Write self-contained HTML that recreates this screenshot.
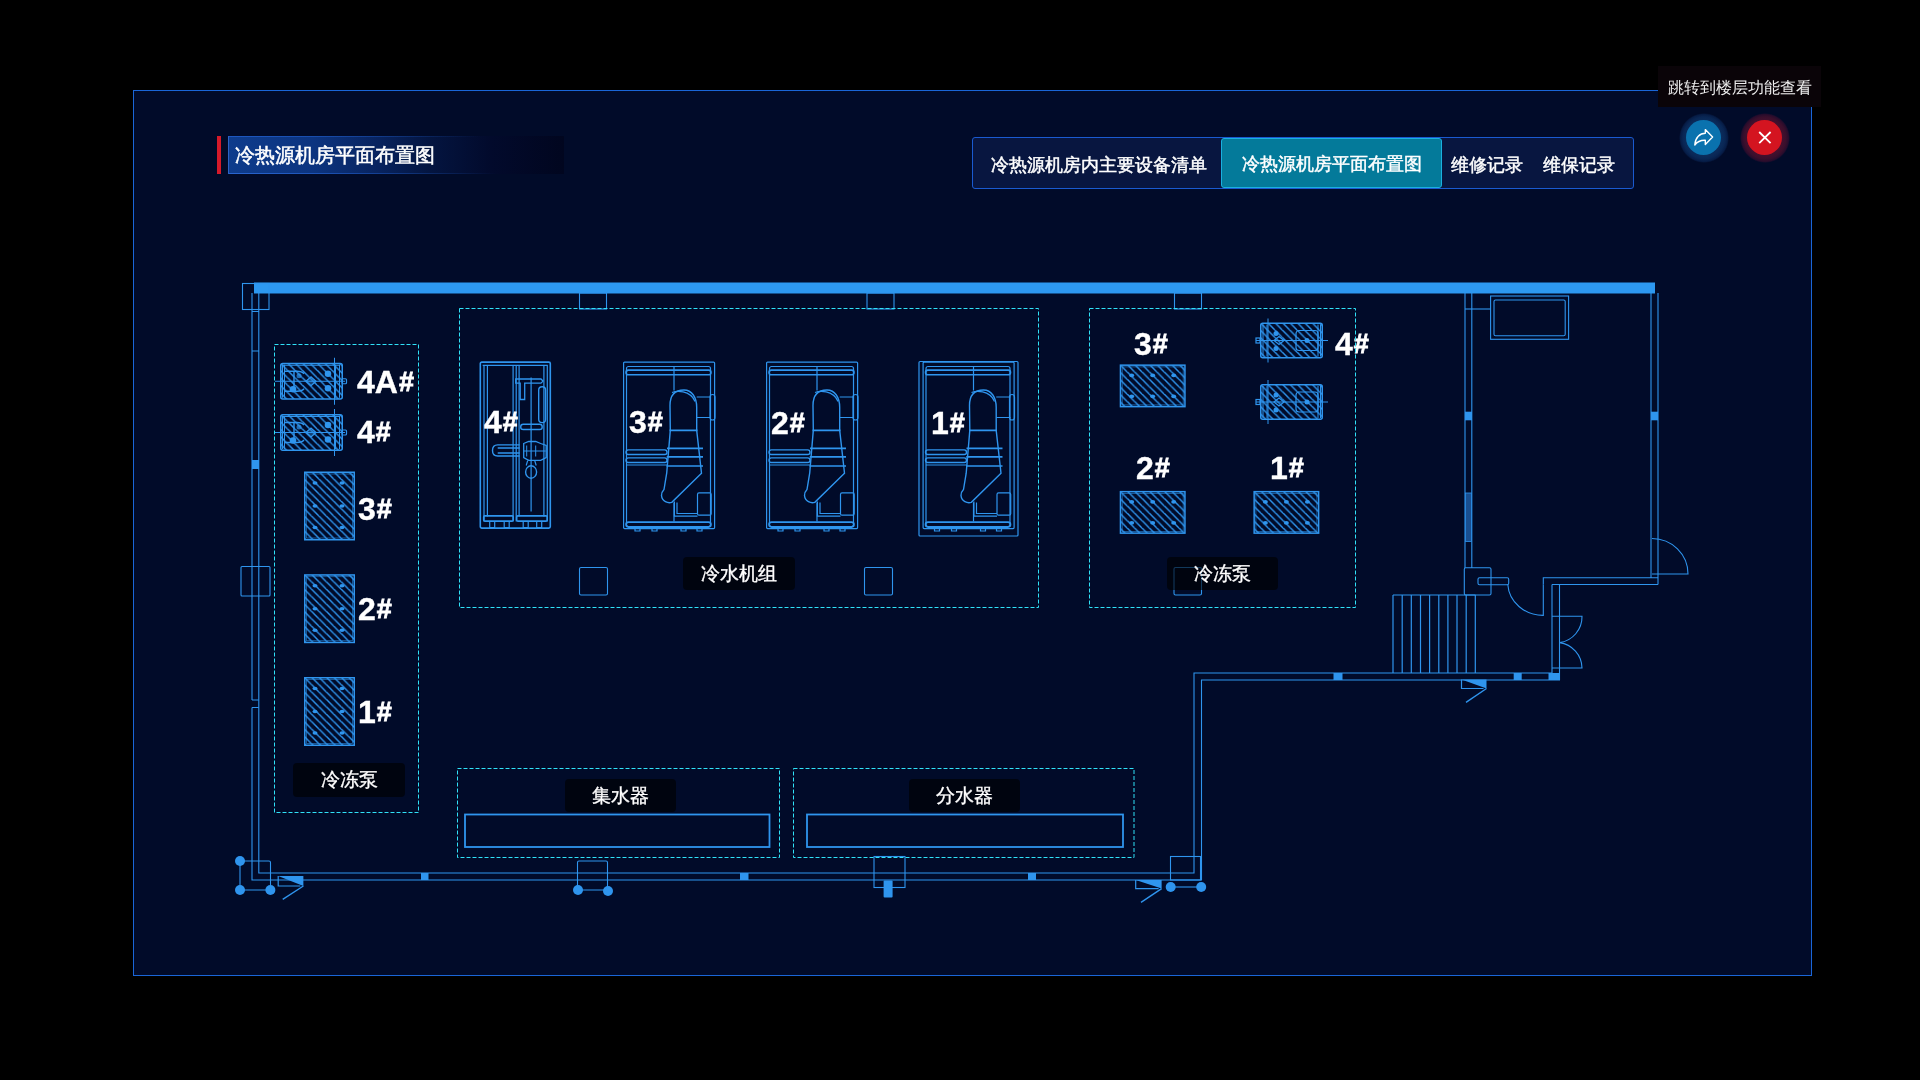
<!DOCTYPE html>
<html><head><meta charset="utf-8">
<style>
*{margin:0;padding:0;box-sizing:border-box}
html,body{width:1920px;height:1080px;overflow:hidden;background:#000;font-family:"Liberation Sans",sans-serif;color:#fff}
.panel{position:absolute;left:133px;top:90px;width:1679px;height:886px;border:1px solid #1a66d8;background:#010b29}
.redbar{position:absolute;left:217px;top:136px;width:4px;height:38px;background:#d51a2a}
.title{position:absolute;left:228px;top:136px;width:336px;height:38px;background:linear-gradient(90deg,#1e58c0,rgba(30,88,192,.5) 40%,rgba(30,88,192,0) 75%) left top/100% 1px no-repeat,linear-gradient(90deg,#2a66d0,rgba(30,88,192,.6) 40%,rgba(30,88,192,0) 80%) left bottom/100% 1px no-repeat,linear-gradient(90deg,#0e3c8c 0%,#0c3480 25%,#08235e 45%,#041540 60%,#020a2c 78%,#01061f 100%);border-left:1px solid #2a62c8}
.title span{position:absolute;left:6px;top:7px;font-size:20px;font-weight:400;-webkit-text-stroke:.5px #fff;line-height:24px;white-space:nowrap;letter-spacing:0}
.tabs{position:absolute;left:972px;top:137px;width:662px;height:52px;border:1px solid #1a5ad0;border-radius:3px;background:#081640}
.tab{position:absolute;top:2px;height:50px;font-size:18px;font-weight:400;-webkit-text-stroke:.45px #fff;line-height:50px;white-space:nowrap}
.tab.active{top:0;height:50px;background:#047a9a;border:1px solid #1ab0e0;border-radius:3px}
.tip{position:absolute;left:1658px;top:66px;width:163px;height:41px;background:#0a0408;font-size:16px;line-height:43px;text-align:center;color:#eee;white-space:nowrap}
.btn{position:absolute;width:50px;height:50px;border-radius:50%}
.btn i{position:absolute;left:7.5px;top:7px;width:35px;height:35px;border-radius:50%}
.lbl{position:absolute;background:rgba(0,0,0,.62);border-radius:4px;font-size:19px;font-weight:400;-webkit-text-stroke:.35px #fff;text-align:center;color:#fff;white-space:nowrap}
.num{position:absolute;font-weight:700;font-size:32px;line-height:32px;white-space:nowrap;color:#fff;-webkit-text-stroke:.4px #fff}
.num b{font-size:27px;vertical-align:2px;-webkit-text-stroke:.8px #fff;margin-left:1px}
svg{position:absolute;left:0;top:0}
.num,.lbl,.tab,.title span,.tip{will-change:transform}
</style></head>
<body>
<div class="panel"></div>
<div class="redbar"></div>
<div class="title"><span>冷热源机房平面布置图</span></div>
<div class="tabs">
  <div class="tab" style="left:18px">冷热源机房内主要设备清单</div>
  <div class="tab active" style="left:248px;width:221px;text-align:center">冷热源机房平面布置图</div>
  <div class="tab" style="left:478px">维修记录</div>
  <div class="tab" style="left:570px">维保记录</div>
</div>
<div class="tip">跳转到楼层功能查看</div>
<div class="btn" style="left:1678.5px;top:113px;background:radial-gradient(circle closest-side,#0b2c5c 70%,#092654 84%,#061c46 94%,rgba(1,11,41,0) 100%)"><i style="background:#0a72ae"></i></div>
<div class="btn" style="left:1739.5px;top:113px;background:radial-gradient(circle closest-side,#44102e 70%,#3a0f2c 84%,#280c2c 94%,rgba(1,11,41,0) 100%)"><i style="background:#d41420"></i></div>

<svg width="1920" height="1080" viewBox="0 0 1920 1080" id="plan">
<defs>
<pattern id="hatch" patternUnits="userSpaceOnUse" width="7.4" height="7.4" patternTransform="rotate(0)"><path d="M-1,-1 L8.4,8.4 M-4.7,2.7 L0,7.4 M2.7,-4.7 L8.4,1" stroke="#2f95ee" stroke-width="1.45" fill="none"/></pattern>
<g id="pumpV"><rect x="0.75" y="0.75" width="49.5" height="67.5" fill="url(#hatch)" stroke="#2f95ee" stroke-width="1.5"/><rect x="2.5" y="2.5" width="46" height="64" fill="none" stroke="#2f95ee" stroke-width="0.8" opacity=".7"/><g fill="#2f95ee"><ellipse cx="11" cy="11.5" rx="2.5" ry="1.8"/><ellipse cx="38" cy="11.5" rx="2.5" ry="1.8"/><ellipse cx="11" cy="34.5" rx="2.5" ry="1.8"/><ellipse cx="38" cy="34.5" rx="2.5" ry="1.8"/><ellipse cx="11" cy="56" rx="2.5" ry="1.8"/><ellipse cx="38" cy="56" rx="2.5" ry="1.8"/></g></g>
<g id="pumpH"><rect x="0.75" y="0.75" width="64.5" height="41.5" fill="url(#hatch)" stroke="#2f95ee" stroke-width="1.5"/><rect x="2.5" y="2.5" width="61" height="38" fill="none" stroke="#2f95ee" stroke-width="0.8" opacity=".7"/><g fill="#2f95ee"><ellipse cx="12" cy="11" rx="2.5" ry="1.8"/><ellipse cx="33" cy="11" rx="2.5" ry="1.8"/><ellipse cx="54" cy="11" rx="2.5" ry="1.8"/><ellipse cx="12" cy="32" rx="2.5" ry="1.8"/><ellipse cx="33" cy="32" rx="2.5" ry="1.8"/><ellipse cx="54" cy="32" rx="2.5" ry="1.8"/></g></g>
<g id="pumpS"><rect x="0.75" y="0.75" width="61.5" height="35.5" rx="2" fill="url(#hatch)" stroke="#2f95ee" stroke-width="1.5"/><path d="M2,2.5 H60 M2.5,2 V35 M4.5,2 V35 M55.5,2 V35 M59.5,2 V35 M54.5,-5 V42 M-5,18.5 H65" stroke="#2f95ee" stroke-width="1" fill="none"/><path d="M4,8.5 H17 Q22,8.5 24,11 M4,28.5 H17 Q22,28.5 24,26 M14,8.5 V28.5" stroke="#2f95ee" stroke-width="1.4" fill="none"/><path d="M26,18.5 L31,14 L36,18.5 L31,23Z" stroke="#2f95ee" stroke-width="1.3" fill="#2f95ee" fill-opacity=".4"/><circle cx="13" cy="26.5" r="3.3" fill="#2f95ee"/><circle cx="48" cy="11" r="3.3" fill="#2f95ee"/><circle cx="48" cy="25.5" r="3.3" fill="#2f95ee"/><circle cx="19" cy="13" r="2.5" fill="#2f95ee" opacity=".7"/><rect x="62" y="16" width="4.5" height="5" rx="1" fill="none" stroke="#2f95ee" stroke-width="1.2"/></g>
<g id="pumpS2"><rect x="0.75" y="0.75" width="61.5" height="34.5" rx="2" fill="url(#hatch)" stroke="#2f95ee" stroke-width="1.5"/><path d="M3,2 V34 M7,2 V34 M58,2 V34 M60.5,2 V34 M8,-4 V40 M-4,18 H68" stroke="#2f95ee" stroke-width="1" fill="none"/><rect x="36" y="8" width="22" height="20" rx="3" fill="none" stroke="#2f95ee" stroke-width="1.2"/><path d="M14,18 L19,14 L24,18 L19,22Z" stroke="#2f95ee" stroke-width="1.3" fill="none"/><circle cx="16" cy="11" r="2.5" fill="#2f95ee"/><circle cx="16" cy="26" r="2.5" fill="#2f95ee"/><circle cx="47" cy="18" r="2.5" fill="#2f95ee"/><rect x="-4" y="15.5" width="4" height="5" fill="none" stroke="#2f95ee" stroke-width="1.2"/></g>
<g id="chB" fill="none" stroke="#2f95ee" stroke-width="1.2"><rect x="0.6" y="0.6" width="91" height="166.5" rx="1"/><rect x="3.5" y="5" width="84" height="160" rx="2"/><rect x="3" y="8.6" width="85" height="4.6" rx="2.3" stroke-width="1.6"/><rect x="3" y="160.6" width="85" height="5" rx="2.5" stroke-width="1.6"/><path d="M51,5 V29 M51,141 V160"/><rect x="3" y="88.4" width="41" height="4.6" rx="2.3" stroke-width="1.4"/><rect x="3" y="96.4" width="41" height="4.6" rx="2.3" stroke-width="1.4"/><path d="M3.5,103.5 H44"/><path d="M47.3,68.9 L47,44 C47,34 52,28.5 61,28.5 C69,28.5 73.7,36 73.7,46 L73.7,68.9 L78.5,111.7 L48.8,140.8 C45,142 39,140 38.5,134 C38.5,131 40,129 41,128 L43.7,111.7 Z" stroke-width="1.4"/><path d="M49,31 C53,29.5 67,28 72,40" /><path d="M46.5,68.9 H74.5 M44,86.9 H80 M43.7,95.4 H80 M43.5,104.5 H80" stroke-width="1.6"/><path d="M73.7,35.5 H88 M73.7,56 H88" /><rect x="87" y="33" width="5" height="25.5" rx="2.5"/><rect x="74.5" y="131.4" width="13.7" height="22.3" rx="1.5"/><path d="M51.4,140 V154.6 H74.5 M54,141 V152 H74.5"/><path d="M12,166 v3.5 h5 v-3.5 M29,166 v3.5 h5 v-3.5 M58,166 v3.5 h5 v-3.5 M74,166 v3.5 h5 v-3.5"/></g>
<g id="chA" fill="none" stroke="#2f95ee" stroke-width="1.2"><rect x="0.6" y="0.6" width="70" height="166" rx="1.5" stroke-width="1.6"/><path d="M4.3,3.8 V160 M7.7,3.8 V155 M33.4,3.8 V160 M36.5,3.8 V160 M39.4,3.8 V155 M64.2,3.8 V155 M67.6,3.8 V160 M51.4,16 V150"/><path d="M3,3.8 H68" /><rect x="4" y="154.4" width="29.5" height="5.2" rx="1" stroke-width="1.6"/><rect x="37" y="154.4" width="30.5" height="5.2" rx="1" stroke-width="1.6"/><path d="M10,160 v6 h5 v-6 M24.5,160 v6 h5 v-6 M43.5,160 v6 h5 v-6 M57,160 v6 h5 v-6"/><rect x="59" y="25.2" width="6.9" height="35.9" rx="3.4" stroke-width="1.4"/><path d="M36,17.5 H61.3 L63.3,19.6 L61.3,21.7 H45 V38 H40.5 V21.7 H36 Z" stroke-width="1.3"/><rect x="41" y="62.8" width="21.5" height="5.2" rx="2.6" stroke-width="1.4"/><path d="M40,83.4 H18 C14.5,83.4 12.8,86 12.8,89 C12.8,92 14.5,94.5 18,94.5 H40 M18,86.5 H40 M18,91.5 H40" stroke-width="1.4"/><path d="M44,82 L49,80 L56,80 L61,82 L66.5,84 V96 L61,98.8 L49,98.8 L44,96 Z" stroke-width="1.3"/><path d="M47,84 V95 M56,84 V95 M44,89.5 H66" stroke-width="1"/><path d="M48,99 L46.5,104 M55,99 L56.5,104"/><ellipse cx="51.4" cy="110.5" rx="5.5" ry="6.2" stroke-width="1.4"/></g>
</defs>
<rect x="254" y="282.5" width="1401" height="11" fill="#2d98f0"/>
<rect x="242.5" y="283.5" width="26.5" height="26" stroke="#2f95ee" stroke-width="1.1" fill="none"/>
<path d="M252,293 V700 M252,707.5 V880 H1201.5 V680 H1559.5 V584.5 M258.8,293 V873 H1194 V673 H1552 V584.5" stroke="#2f95ee" stroke-width="1.1" fill="none"/>
<path d="M252,700 H258.8 M252,707.5 H258.8" stroke="#2f95ee" stroke-width="1" fill="none"/>
<rect x="252" y="460" width="7" height="9" fill="#2f95ee"/>
<rect x="241" y="566.5" width="29" height="29.5" rx="1" stroke="#2f95ee" stroke-width="1.1" fill="none"/>
<path d="M252,311.5 H259 M252,351 H259" stroke="#2f95ee" stroke-width="1.2" fill="none"/>
<rect x="579.5" y="293" width="27" height="16" stroke="#2f95ee" stroke-width="1.1" fill="none"/>
<rect x="867" y="293" width="27" height="16" stroke="#2f95ee" stroke-width="1.1" fill="none"/>
<rect x="1174.5" y="293" width="27" height="16" stroke="#2f95ee" stroke-width="1.1" fill="none"/>
<rect x="579.5" y="567.5" width="28" height="27.5" rx="1.5" stroke="#2f95ee" stroke-width="1.1" fill="none"/>
<rect x="864.5" y="567.5" width="28" height="27.5" rx="1.5" stroke="#2f95ee" stroke-width="1.1" fill="none"/>
<rect x="1174" y="567.5" width="27.5" height="27.5" rx="1.5" stroke="#2f95ee" stroke-width="1.1" fill="none"/>
<rect x="421" y="873" width="7.5" height="7" fill="#2f95ee"/>
<rect x="740" y="873" width="8.5" height="7" fill="#2f95ee"/>
<rect x="1028" y="873" width="8" height="7" fill="#2f95ee"/>
<rect x="1333.5" y="673" width="9" height="7" fill="#2f95ee"/>
<rect x="1513.7" y="673" width="8" height="7" fill="#2f95ee"/>
<rect x="1548.5" y="673" width="11" height="7" fill="#2f95ee"/>
<rect x="577.5" y="861" width="30" height="29" rx="1.5" stroke="#2f95ee" stroke-width="1.1" fill="none"/>
<rect x="874" y="856.5" width="31" height="31" stroke="#2f95ee" stroke-width="1.1" fill="none"/>
<rect x="883.6" y="880.6" width="9" height="17" rx="1" fill="#2f95ee"/>
<rect x="1170.5" y="856.5" width="30" height="23.5" stroke="#2f95ee" stroke-width="1.1" fill="none"/>
<rect x="240" y="861" width="30.5" height="29" rx="1.5" stroke="#2f95ee" stroke-width="1.1" fill="none"/>
<circle cx="240" cy="861" r="5" fill="#2f95ee"/>
<circle cx="240" cy="890" r="5" fill="#2f95ee"/>
<circle cx="270.4" cy="890" r="5" fill="#2f95ee"/>
<circle cx="578" cy="890" r="5" fill="#2f95ee"/>
<circle cx="608" cy="891" r="5" fill="#2f95ee"/>
<circle cx="1170.7" cy="887" r="5" fill="#2f95ee"/>
<circle cx="1201.2" cy="887" r="5" fill="#2f95ee"/>
<path d="M1170.7,887 H1201.2" stroke="#2f95ee" stroke-width="1.1" fill="none"/>
<path d="M278.2,876 L303.4,876 L303.4,886 Z" fill="#2f95ee"/>
<path d="M278.2,876 V886 H300.4" stroke="#2f95ee" stroke-width="1.2" fill="none"/>
<path d="M303.4,886 L282.7,899.3" stroke="#2f95ee" stroke-width="1.4" fill="none"/>
<path d="M1135.7,880 L1161.6,880 L1161.6,888.6 Z" fill="#2f95ee"/>
<path d="M1135.7,880 V888.6 H1158.6" stroke="#2f95ee" stroke-width="1.2" fill="none"/>
<path d="M1161.6,888.6 L1141,902.4" stroke="#2f95ee" stroke-width="1.4" fill="none"/>
<path d="M1461.5,679.6 L1486.5,679.6 L1486.5,688.5 Z" fill="#2f95ee"/>
<path d="M1461.5,679.6 V688.5 H1483.5" stroke="#2f95ee" stroke-width="1.2" fill="none"/>
<path d="M1486.5,688.5 L1466,702.4" stroke="#2f95ee" stroke-width="1.4" fill="none"/>
<path d="M1465,293 V568 M1471.8,293 V568" stroke="#2f95ee" stroke-width="1.1" fill="none"/>
<path d="M1465,309 H1490.6" stroke="#2f95ee" stroke-width="1.1" fill="none"/>
<rect x="1490.6" y="296" width="78" height="43.3" stroke="#2f95ee" stroke-width="1.1" fill="none"/>
<rect x="1494" y="300" width="71.2" height="35.8" rx="1.5" stroke="#2f95ee" stroke-width="1.1" fill="none"/>
<rect x="1465" y="411.7" width="7" height="8.6" fill="#2f95ee"/>
<rect x="1651" y="411.7" width="7" height="8.6" fill="#2f95ee"/>
<rect x="1465.5" y="493" width="6" height="48.5" fill="#1a4f90" stroke="#2f95ee" stroke-width="0.8"/>
<path d="M1651,293 V578 M1658,293 V584.5" stroke="#2f95ee" stroke-width="1.1" fill="none"/>
<path d="M1652,538.5 A36,35.5 0 0 1 1688,574 H1652" stroke="#2f95ee" stroke-width="1.1" fill="none"/>
<path d="M1543.3,584.5 V577.8 H1658 M1559.5,584.5 H1658 M1552,584.5 H1559.5" stroke="#2f95ee" stroke-width="1.1" fill="none"/>
<path d="M1393,595 H1475.4" stroke="#2f95ee" stroke-width="1.1" fill="none"/>
<path d="M1393.0,595 V673" stroke="#2f95ee" stroke-width="1.2"/>
<path d="M1402.2,595 V673" stroke="#2f95ee" stroke-width="1.2"/>
<path d="M1411.3,595 V673" stroke="#2f95ee" stroke-width="1.2"/>
<path d="M1420.5,595 V673" stroke="#2f95ee" stroke-width="1.2"/>
<path d="M1429.6,595 V673" stroke="#2f95ee" stroke-width="1.2"/>
<path d="M1438.8,595 V673" stroke="#2f95ee" stroke-width="1.2"/>
<path d="M1447.9,595 V673" stroke="#2f95ee" stroke-width="1.2"/>
<path d="M1457.0,595 V673" stroke="#2f95ee" stroke-width="1.2"/>
<path d="M1466.2,595 V673" stroke="#2f95ee" stroke-width="1.2"/>
<path d="M1475.3,595 V673" stroke="#2f95ee" stroke-width="1.2"/>
<rect x="1464.3" y="567.8" width="26.7" height="27.2" rx="1.5" stroke="#2f95ee" stroke-width="1.1" fill="none"/>
<rect x="1478" y="577.8" width="30.7" height="7" rx="1.5" stroke="#2f95ee" stroke-width="1.1" fill="none"/>
<path d="M1507.8,584.5 A35.5,33 0 0 0 1543.3,615.4 V584.5" stroke="#2f95ee" stroke-width="1.1" fill="none"/>
<path d="M1552,616.3 H1582 A26,26 0 0 1 1559.5,642.6 A26,26 0 0 1 1582,668 H1552" stroke="#2f95ee" stroke-width="1.1" fill="none"/>
<rect x="465" y="814.5" width="304.5" height="32.5" stroke="#2f95ee" stroke-width="1.8" fill="none"/>
<rect x="807" y="814.5" width="316" height="32.5" stroke="#2f95ee" stroke-width="1.8" fill="none"/>
<use href="#pumpV" x="304" y="471.5"/>
<use href="#pumpV" x="304" y="574.2"/>
<use href="#pumpV" x="304" y="677"/>
<use href="#pumpH" x="1119.7" y="364.4"/>
<use href="#pumpH" x="1119.7" y="490.9"/>
<use href="#pumpH" x="1253.4" y="490.9"/>
<use href="#pumpS" x="280" y="362.75"/>
<use href="#pumpS" x="280" y="414"/>
<use href="#pumpS2" x="1260" y="322.5"/>
<use href="#pumpS2" x="1260" y="384"/>
<use href="#chA" x="479.7" y="361.5"/>
<use href="#chB" x="623" y="361.5"/>
<use href="#chB" x="766" y="361.5"/>
<use href="#chB" x="922.5" y="361.5"/>
<rect x="919" y="361.5" width="99" height="174.5" rx="1" stroke="#2f95ee" stroke-width="1.2" fill="none"/>
</svg>

<div class="lbl" style="left:293px;top:763px;width:112px;height:34px;line-height:34px">冷冻泵</div>
<div class="lbl" style="left:683px;top:557px;width:112px;height:33px;line-height:33px">冷水机组</div>
<div class="lbl" style="left:1167px;top:557px;width:111px;height:33px;line-height:33px;">冷冻泵</div>
<div class="lbl" style="left:565px;top:779px;width:111px;height:33px;line-height:33px">集水器</div>
<div class="lbl" style="left:909px;top:779px;width:111px;height:33px;line-height:33px">分水器</div>
<div class="num" style="left:357px;top:366px">4A<b>#</b></div>
<div class="num" style="left:357px;top:416px">4<b>#</b></div>
<div class="num" style="left:358px;top:493px">3<b>#</b></div>
<div class="num" style="left:358px;top:593px">2<b>#</b></div>
<div class="num" style="left:358px;top:696px">1<b>#</b></div>
<div class="num" style="left:484px;top:406px">4<b>#</b></div>
<div class="num" style="left:629px;top:406px">3<b>#</b></div>
<div class="num" style="left:771px;top:407px">2<b>#</b></div>
<div class="num" style="left:931px;top:407px">1<b>#</b></div>
<div class="num" style="left:1134px;top:328px">3<b>#</b></div>
<div class="num" style="left:1335px;top:328px">4<b>#</b></div>
<div class="num" style="left:1136px;top:452px">2<b>#</b></div>
<div class="num" style="left:1270px;top:452px">1<b>#</b></div>
<svg width="1920" height="1080" viewBox="0 0 1920 1080" style="position:absolute;left:0;top:0"><rect x="274.5" y="344.5" width="144" height="468" stroke="#30e2f8" stroke-width="1" fill="none" stroke-dasharray="4 2"/>
<rect x="459.5" y="308.5" width="579" height="299" stroke="#30e2f8" stroke-width="1" fill="none" stroke-dasharray="4 2"/>
<rect x="1089.5" y="308.5" width="266" height="299" stroke="#30e2f8" stroke-width="1" fill="none" stroke-dasharray="4 2"/>
<rect x="457.5" y="768.5" width="322" height="89" stroke="#30e2f8" stroke-width="1" fill="none" stroke-dasharray="4 2"/>
<rect x="793.5" y="768.5" width="340.5" height="89" stroke="#30e2f8" stroke-width="1" fill="none" stroke-dasharray="4 2"/></svg>
<svg width="1920" height="1080" style="position:absolute;left:0;top:0" viewBox="0 0 1920 1080">
<path d="M1694.8,145 C1695.3,137.5 1700,133.3 1705.3,133.3 V129.6 L1712.6,137.1 L1705.3,144.4 V140.2 C1700.5,140 1697.2,141.6 1694.8,145 Z" stroke="#fff" stroke-width="1.4" fill="none" stroke-linejoin="round"/>
<path d="M1759.2,132 L1770.6,143.2 M1770.6,132 L1759.2,143.2" stroke="#fff" stroke-width="1.8"/>
</svg>
</body></html>
